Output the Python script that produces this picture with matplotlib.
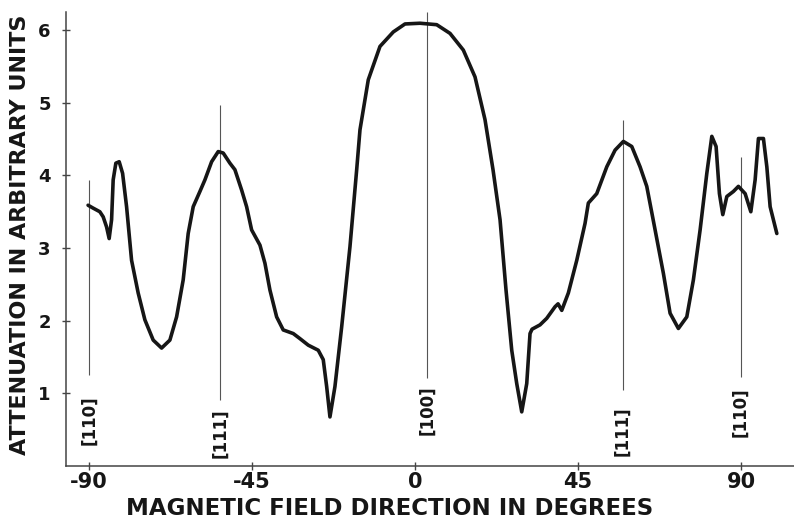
import matplotlib
matplotlib.use("Agg")
import matplotlib.pyplot as plt

# attenuation vs. magnetic field direction
angle_deg = [
    -90.3, -88.9, -87.05, -86.13, -85.19, -84.48, -83.81, -83.37, -82.63, -81.71,
    -80.77, -79.67, -78.29, -76.47, -74.62, -72.32, -70.0, -67.71, -65.86, -64.04,
    -62.66, -61.27, -59.42, -58.04, -56.19, -54.37, -52.99, -51.14, -49.76, -47.91,
    -46.53, -45.15, -42.85, -41.47, -40.09, -38.24, -36.42, -33.65, -31.8, -29.51,
    -26.75, -25.37, -24.43, -23.52, -22.14, -20.29, -17.99, -16.14, -15.23, -12.94,
    -9.71, -6.03, -2.8, 1.34, 5.95, 9.63, 13.3, 16.53, 19.29, 21.5,
    23.44, 25.09, 26.67, 28.05, 29.43, 30.81, 31.72, 32.27, 34.48, 36.33,
    38.63, 39.46, 40.48, 42.3, 44.62, 46.91, 47.82, 50.14, 52.91, 55.2,
    57.49, 59.81, 62.1, 63.95, 66.25, 68.54, 70.39, 72.68, 75.0, 76.82,
    78.68, 80.53, 81.91, 83.09, 84.01, 84.94, 86.05, 87.87, 89.25, 91.11,
    92.68, 93.87, 94.78, 96.16, 97.1, 98.01, 99.86,
]
attenuation = [
    3.59, 3.55, 3.50, 3.43, 3.29, 3.13, 3.39, 3.94, 4.17, 4.19,
    4.03, 3.57, 2.83, 2.38, 2.01, 1.73, 1.62, 1.73, 2.05, 2.56,
    3.20, 3.57, 3.78, 3.94, 4.19, 4.33, 4.31, 4.17, 4.08, 3.80,
    3.57, 3.25, 3.04, 2.79, 2.42, 2.05, 1.87, 1.82, 1.75, 1.66,
    1.59, 1.46, 1.09, 0.67, 1.09, 1.91, 3.02, 4.08, 4.63, 5.32,
    5.78, 5.98, 6.09, 6.10, 6.08, 5.96, 5.73, 5.36, 4.77, 4.08,
    3.39, 2.42, 1.59, 1.13, 0.74, 1.13, 1.82, 1.88, 1.94, 2.03,
    2.19, 2.23, 2.14, 2.38, 2.83, 3.34, 3.62, 3.75, 4.12, 4.35,
    4.47, 4.40, 4.12, 3.85, 3.25, 2.65, 2.10, 1.89, 2.05, 2.56,
    3.25, 4.03, 4.54, 4.40, 3.75, 3.46, 3.71, 3.78, 3.85, 3.75,
    3.50, 3.94, 4.51, 4.51, 4.12, 3.57, 3.20,
]

# crystal direction markers: position, top and bottom of the guide line
direction_labels = ["[110]", "[111]", "[100]", "[111]", "[110]"]
direction_deg = [-90.0, -53.8, 3.3, 57.3, 89.9]
guide_top = [3.94, 4.97, 6.25, 4.77, 4.26]
guide_bottom = [1.25, 0.90, 1.21, 1.04, 1.22]
label_y = [0.62, 0.45, 0.76, 0.48, 0.73]

xticks = [-90, -45, 0, 45, 90]
yticks = [1, 2, 3, 4, 5, 6]

plt.rcParams["axes.unicode_minus"] = False
plt.rcParams["font.family"] = "DejaVu Sans"
plt.rcParams["font.weight"] = "bold"

fig = plt.figure(figsize=(7.94, 5.24), dpi=100)
ax = fig.add_axes([0.0831, 0.1116, 0.9169, 0.8655])

ink = "#161616"
ax.vlines(direction_deg, guide_bottom, guide_top, colors="#555555",
          linewidth=0.8, clip_on=False)
ax.plot(angle_deg, attenuation, color=ink, linewidth=2.6,
        solid_joinstyle="round", solid_capstyle="round")

for lab, x, y in zip(direction_labels, direction_deg, label_y):
    ax.text(x, y, lab, rotation=90, ha="center", va="center",
            fontsize=12, fontweight="bold", color=ink)

ax.set_xlim(-96.4, 104.6)
ax.set_ylim(0, 6.255)
ax.set_xticks(xticks)
ax.set_yticks(yticks)
ax.tick_params(axis="both", direction="inout", length=6, width=1,
               color="#444444", labelcolor=ink)
ax.tick_params(axis="x", pad=2, labelsize=15)
ax.tick_params(axis="y", pad=8, labelsize=13)
for side in ("top", "right"):
    ax.spines[side].set_visible(False)
for side in ("left", "bottom"):
    ax.spines[side].set_color("#444444")
    ax.spines[side].set_linewidth(1.1)

ax.set_xlabel("MAGNETIC FIELD DIRECTION IN DEGREES", fontsize=16.5,
              fontweight="bold", color=ink)
ax.xaxis.set_label_coords(0.445, -0.0695)
ax.set_ylabel("ATTENUATION IN ARBITRARY UNITS", fontsize=16,
              fontweight="bold", color=ink)
ax.yaxis.set_label_coords(-0.049, 0.508)

fig.savefig("out.png", dpi=100, facecolor="white")
